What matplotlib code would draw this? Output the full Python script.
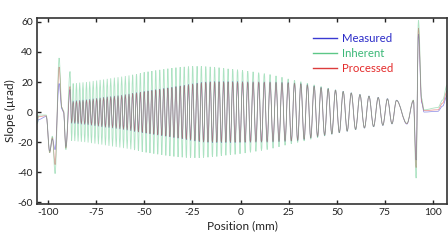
import matplotlib
matplotlib.use("Agg")
import matplotlib.pyplot as plt
from matplotlib.lines import Line2D
from matplotlib.patches import PathPatch
from matplotlib.path import Path

plt.rcParams["font.family"] = ["Lato", "DejaVu Sans"]
plt.rcParams["axes.unicode_minus"] = False

# left edge, before the periodic part (mm, urad)
left_x = [-105.6, -105.0, -101.0, -99.2, -97.8, -96.4, -94.3, -92.9, -92.0, -90.8, -88.6]
left_inherent = [-8, -2, -2, -27, -16, -41, 36, 3, 1, -25, 27]
left_measured = [-7, -5, -3, -26, -18, -25, 19, 2, 0, -23, 15]
left_processed = [-5, -3, -2.5, -27, -17, -35, 30, 3, 0.5, -24, 17]

# periodic part: one trough then one peak per cycle
trough_x = [-87.8, -86.15, -84.45, -82.75, -81.0, -79.25, -77.5, -75.7, -73.9, -72.1,
            -70.25, -68.4, -66.55, -64.65, -62.75, -60.85, -58.95, -57.05, -55.1, -53.1,
            -51.1, -49.1, -47.1, -45.1, -43.05, -40.95, -38.85, -36.75, -34.65, -32.5,
            -30.35, -28.2, -26.0, -23.75, -21.5, -19.25, -16.95, -14.65, -12.35, -10.0,
            -7.65, -5.3, -2.85, -0.3, 2.35, 5.1, 7.95, 10.85, 13.8, 16.85,
            19.95, 23.1, 26.35, 29.65, 33.0, 36.45, 40.0, 43.65, 47.4, 51.3,
            55.4, 59.75, 64.35, 69.1, 73.9, 78.65]
peak_x = [-87.0, -85.3, -83.6, -81.9, -80.1, -78.4, -76.6, -74.8, -73.0, -71.2,
          -69.3, -67.5, -65.6, -63.7, -61.8, -59.9, -58.0, -56.1, -54.1, -52.1,
          -50.1, -48.1, -46.1, -44.1, -42.0, -39.9, -37.8, -35.7, -33.6, -31.4,
          -29.3, -27.1, -24.9, -22.6, -20.4, -18.1, -15.8, -13.5, -11.2, -8.8,
          -6.5, -4.1, -1.6, 1.0, 3.7, 6.5, 9.4, 12.3, 15.3, 18.4,
          21.5, 24.7, 28.0, 31.3, 34.7, 38.2, 41.8, 45.5, 49.3, 53.3,
          57.5, 62.0, 66.7, 71.5, 76.3, 81.0]
inherent_amp = [19.0, 19.3, 19.6, 19.8, 20.0, 20.3, 20.7, 21.0, 21.4, 21.7,
                22.1, 22.5, 22.9, 23.2, 23.6, 24.0, 24.4, 24.8, 25.3, 25.8,
                26.5, 26.9, 27.3, 27.7, 28.1, 28.5, 28.9, 29.3, 29.6, 29.9,
                30.1, 30.3, 30.5, 30.5, 30.5, 30.3, 30.1, 29.8, 29.6, 29.2,
                28.8, 28.5, 28.2, 27.8, 27.3, 26.8, 26.2, 25.6, 25.0, 24.1,
                23.2, 22.1, 21.1, 20.2, 19.2, 18.1, 17.0, 15.9, 14.8, 13.8,
                12.8, 11.7, 10.6, 9.7, 8.8, 7.8]
measured_amp = [7.5, 7.8, 8.0, 8.2, 8.4, 8.7, 9.0, 9.3, 9.6, 10.0,
                10.3, 10.5, 10.8, 11.1, 11.4, 11.8, 12.2, 12.6, 13.0, 13.4,
                13.8, 14.2, 14.6, 15.0, 15.4, 15.8, 16.2, 16.6, 17.1, 17.5,
                17.9, 18.4, 18.9, 19.4, 19.8, 20.1, 20.3, 20.4, 20.4, 20.4,
                20.4, 20.4, 20.4, 20.3, 20.3, 20.3, 20.2, 20.2, 20.2, 20.1,
                19.9, 19.7, 19.4, 19.0, 18.3, 17.3, 16.4, 15.6, 14.7, 13.8,
                12.8, 11.7, 10.7, 9.8, 8.9, 7.9]
processed_amp = [7.0, 7.3, 7.6, 7.8, 8.0, 8.3, 8.6, 9.0, 9.3, 9.7,
                 10.0, 10.2, 10.5, 10.8, 11.1, 11.5, 11.9, 12.3, 12.7, 13.1,
                 13.5, 13.9, 14.3, 14.7, 15.1, 15.5, 15.9, 16.3, 16.8, 17.2,
                 17.6, 18.1, 18.6, 19.0, 19.4, 19.7, 19.9, 20.0, 20.0, 20.0,
                 20.0, 20.0, 20.0, 20.0, 20.0, 20.0, 20.0, 20.0, 20.0, 19.9,
                 19.7, 19.5, 19.2, 18.8, 18.1, 17.1, 16.2, 15.4, 14.5, 13.6,
                 12.6, 11.5, 10.5, 9.6, 8.7, 7.7]

# right edge, after the periodic part
right_x = [86.4, 89.8, 91.2, 92.4, 94.1, 95.3, 102.5, 105.0, 107.3]
right_inherent = [-7.5, 8, -44, 61, 9, 1.5, 3, 8, 18]
right_measured = [-8.0, 7.5, -32, 52, 6, 0, 0.5, 4, 11]
right_processed = [-7.7, 7.8, -37, 56, 7, 1, 1.5, 6, 14]

labels = ["Measured", "Inherent", "Processed"]
line_colors = ["#3a3ad2", "#5cc787", "#dc3c3c"]
text_colors = ["#2b2bc8", "#3cb878", "#e42b2b"]


def build(left_y, amp, right_y):
    xs, ys = list(left_x), list(left_y)
    for tx, px, a in zip(trough_x, peak_x, amp):
        xs += [tx, px]
        ys += [-a, a]
    return xs + right_x, ys + right_y


def smooth_path(xs, ys, k=0.36):
    # cubic segments with flat tangents at each extremum
    verts = [(xs[0], ys[0])]
    codes = [Path.MOVETO]
    for x0, y0, x1, y1 in zip(xs[:-1], ys[:-1], xs[1:], ys[1:]):
        dx = (x1 - x0) * k
        verts += [(x0 + dx, y0), (x1 - dx, y1), (x1, y1)]
        codes += [Path.CURVE4] * 3
    return Path(verts, codes)


fig = plt.figure(figsize=(4.48, 2.52), dpi=100)
ax = fig.add_axes([0.083, 0.19, 0.915, 0.739])

series = {
    "Inherent": build(left_inherent, inherent_amp, right_inherent),
    "Measured": build(left_measured, measured_amp, right_measured),
    "Processed": build(left_processed, processed_amp, right_processed),
}
style = {"Measured": (0.5, 0.6), "Processed": (0.5, 0.6), "Inherent": (0.6, 0.5)}
for name in ["Measured", "Processed", "Inherent"]:
    xs, ys = series[name]
    c = line_colors[labels.index(name)]
    lw, a = style[name]
    ax.add_patch(PathPatch(smooth_path(xs, ys), fill=False, edgecolor=c,
                           lw=lw, alpha=a))

ax.set_xlim(-105.7, 107.3)
ax.set_ylim(-61.3, 62.7)
ax.set_xticks([-100, -75, -50, -25, 0, 25, 50, 75, 100])
ax.set_yticks([-60, -40, -20, 0, 20, 40, 60])
ax.tick_params(direction="in", top=True, right=False, length=3, width=1,
               labelsize=7.4, colors="#222222", pad=3)
for s in ax.spines.values():
    s.set_linewidth(1.2)
    s.set_color("#333333")
ax.set_xlabel("Position (mm)", fontsize=8.5, labelpad=2, color="#222222")
ax.set_ylabel("Slope (µrad)", fontsize=8.5, labelpad=1, color="#222222")

handles = [Line2D([], [], color=c, lw=1.0) for c in line_colors]
leg = ax.legend(handles, labels, loc="upper left", bbox_to_anchor=(0.672, 0.92),
                frameon=False, fontsize=8.2, handlelength=2.1, handletextpad=0.5,
                labelspacing=0.36, borderpad=0, borderaxespad=0)
for t, c in zip(leg.get_texts(), text_colors):
    t.set_color(c)

fig.savefig("out.png", dpi=100)
plt.close(fig)
